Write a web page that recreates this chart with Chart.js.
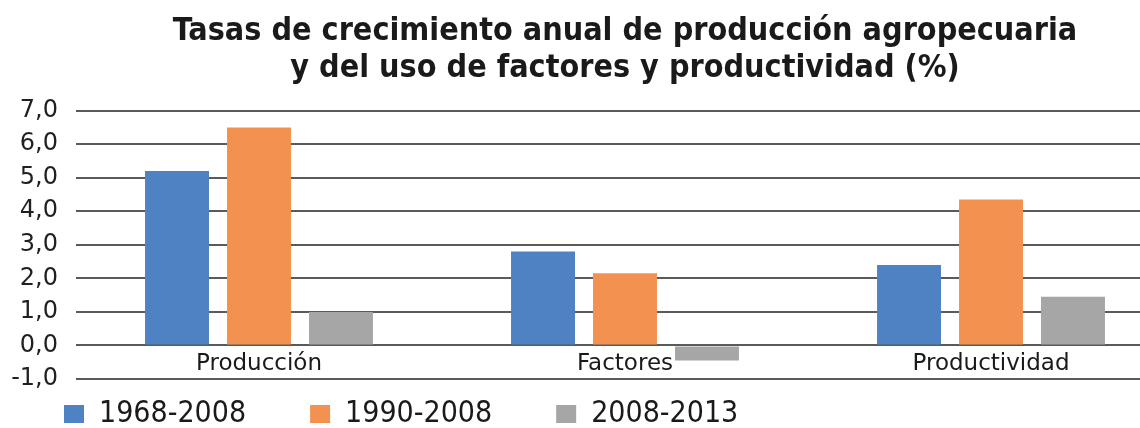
<!DOCTYPE html>
<html>
<head>
<meta charset="utf-8">
<script src="https://cdn.jsdelivr.net/npm/chart.js@4"></script>
<style>
  html, body { margin: 0; padding: 0; background: #fff; overflow: hidden; }
  #wrap { width: 1174px; height: 428px; position: relative; }
</style>
</head>
<body>
<div id="wrap"><canvas id="canvas"></canvas></div>
<script>
// datos
const categorias = ['Producción', 'Factores', 'Productividad'];
const periodos = ['1968-2008', '1990-2008', '2008-2013'];
const serie1968 = [5.2, 2.8, 2.4];
const serie1990 = [6.5, 2.15, 4.35];
const serie2008 = [1.0, -0.45, 1.45];
const yTicks = [-1, 0, 1, 2, 3, 4, 5, 6, 7];

const colores = ['#4f82c2', '#f39250', '#a6a6a6'];
const condensada = "'DejaVu Sans Condensed', 'Liberation Sans Narrow', sans-serif";
const normal = "'DejaVu Sans', sans-serif";

let ctx = document.getElementById('canvas').getContext('2d');
let valores = [serie1968, serie1990, serie2008];

let myChart = new Chart(ctx, {
    type: 'bar',
    data: {
        labels: categorias,
        datasets: periodos.map((p, i) => ({
            label: p,
            data: valores[i],
            backgroundColor: colores[i],
            borderWidth: 0,
            categoryPercentage: 0.672,
            barPercentage: 0.78
        }))
    },
    options: {
        responsive: true,
        maintainAspectRatio: false,
        animation: false,
        layout: { padding: { left: 0, right: 0, top: 0, bottom: -11 } },
        plugins: {
            title: {
                display: true,
                fullSize: false,   // centrado sobre el area del grafico
                text: ['Tasas de crecimiento anual de producción agropecuaria', 'y del uso de factores y productividad (%)'],
                color: '#1a1a1a',
                font: { family: condensada, size: 32, weight: 'bold', lineHeight: 1.15 },
                padding: { top: 13, bottom: 24 }
            },
            legend: {
                position: 'bottom',
                align: 'start',
                // titulo vacio con padding negativo: sube los items sin perder la separacion horizontal
                title: { display: true, text: '', font: { size: 5, lineHeight: 1 }, padding: { top: 0, bottom: -49 } },
                labels: {
                    color: '#1a1a1a',
                    font: { family: condensada, size: 30 },
                    boxWidth: 20,
                    boxHeight: 18,
                    padding: 64
                }
            },
            tooltip: { enabled: false }
        },
        scales: {
            x: {
                position: { y: 0 },
                grid: { display: false, drawTicks: false },
                border: { display: false },
                ticks: {
                    color: '#1a1a1a',
                    font: { family: normal, size: 23 },
                    padding: 5
                }
            },
            y: {
                min: -1,
                max: 7,
                afterBuildTicks: s => { s.ticks = yTicks.map(v => ({ value: v })); },
                afterFit: s => { s.width = 76; },
                grid: { color: '#5a5a5a', lineWidth: 2, drawTicks: false },
                border: { display: false },
                ticks: {
                    color: '#231f20',
                    font: { family: normal, size: 24 },
                    padding: 18,
                    callback: v => v.toFixed(1).replace('.', ',')
                }
            }
        }
    }
});
</script>
</body>
</html>
